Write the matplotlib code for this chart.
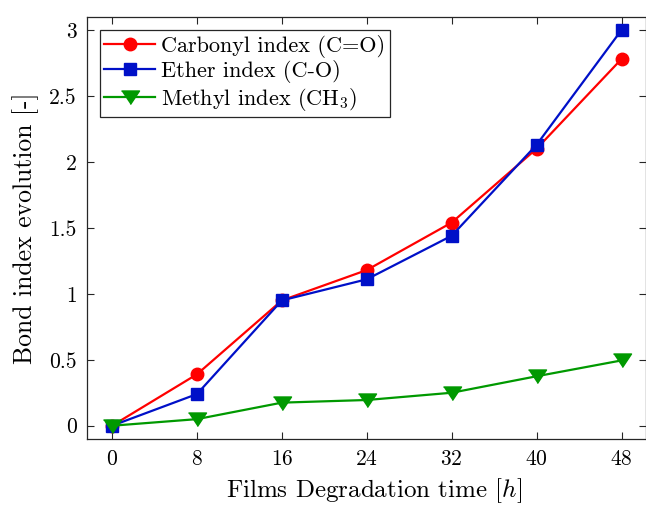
import matplotlib
matplotlib.use('Agg')
import matplotlib.pyplot as plt

plt.rcParams['font.family'] = 'serif'
plt.rcParams['font.serif'] = ['cmr10']
plt.rcParams['mathtext.fontset'] = 'cm'
plt.rcParams['axes.formatter.use_mathtext'] = True

# degradation time (h)
hours = [0, 8, 16, 24, 32, 40, 48]
carbonyl = [0.0, 0.39, 0.95, 1.18, 1.54, 2.10, 2.78]
ether = [0.0, 0.24, 0.95, 1.11, 1.44, 2.13, 3.00]
methyl = [0.0, 0.05, 0.175, 0.195, 0.25, 0.375, 0.495]

labels = ['Carbonyl index (C=O)', 'Ether index (C-O)', 'Methyl index (CH$_3$)']
yticks = [0, 0.5, 1, 1.5, 2, 2.5, 3]
yticklabels = ['0', '0.5', '1', '1.5', '2', '2.5', '3']

# wider downward triangle, like the matlab one
tri = [(-1, 0.72), (1, 0.72), (0, -0.78)]

fig = plt.figure(figsize=(6.46, 5.07), dpi=100)
ax = fig.add_axes([0.134, 0.1335, 0.866, 0.8335])

ax.plot(hours, carbonyl, color='#ff0000', marker='o', markersize=9, lw=1.6, label=labels[0])
ax.plot(hours, ether, color='#0010c8', marker='s', markersize=8, lw=1.6, label=labels[1])
ax.plot(hours, methyl, color='#009900', marker=tri, markersize=13, lw=1.6, label=labels[2])

ax.set_xlim(-2.4, 50.3)
ax.set_ylim(-0.103, 3.1)
ax.set_xticks(hours)
ax.set_yticks(yticks)
ax.set_yticklabels(yticklabels)
ax.tick_params(direction='in', length=5, width=0.8, color='#262626',
               labelsize=15.5, top=True, right=True, pad=7)
for s in ax.spines.values():
    s.set_color('#262626')
    s.set_linewidth(0.9)

ax.set_xlabel('Films Degradation time $[h]$', fontsize=18)
ax.xaxis.set_label_coords(0.514, -0.088)
ax.set_ylabel('Bond index evolution [-]', fontsize=18.5, labelpad=7)

leg = ax.legend(loc='upper left', fontsize=16, fancybox=False, framealpha=1,
                edgecolor='#262626', borderpad=0.2, labelspacing=0.12,
                handlelength=2.3, handletextpad=0.25, borderaxespad=0.6)
leg.get_frame().set_linewidth(0.9)

fig.savefig('out.png', dpi=100)
